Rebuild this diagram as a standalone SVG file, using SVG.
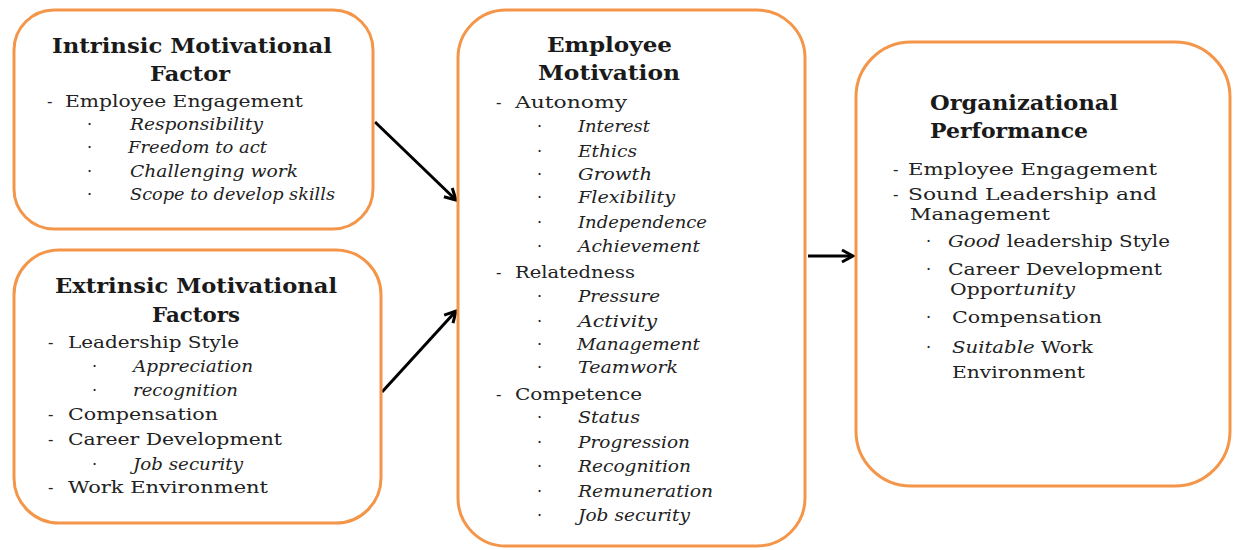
<svg xmlns="http://www.w3.org/2000/svg" width="1233" height="550" viewBox="0 0 1233 550">
<style>
.box{fill:#fff;stroke:#F4964A;stroke-width:3}
.t{font-family:"DejaVu Serif","Liberation Serif",serif;font-weight:bold;font-size:21px;fill:#1a1a1a}
.b{font-family:"DejaVu Serif","Liberation Serif",serif;font-size:17px;fill:#222}
.i{font-family:"DejaVu Serif","Liberation Serif",serif;font-style:italic;font-size:16px;fill:#222}
.d{font-family:"DejaVu Serif","Liberation Serif",serif;font-size:16px;fill:#222}
.c{stroke:#000;stroke-width:3;fill:none}
</style>
<defs>
<marker id="ah" markerUnits="userSpaceOnUse" markerWidth="16" markerHeight="16" refX="13" refY="8" orient="auto">
<path d="M2,2 L13,8 L2,14" fill="none" stroke="#000" stroke-width="3"/>
</marker>
</defs>
<rect width="1233" height="550" fill="#fff"/>
<g id="connectors">
<line class="c" x1="375" y1="122" x2="456" y2="200" marker-end="url(#ah)"/>
<line class="c" x1="382" y1="392" x2="456" y2="311" marker-end="url(#ah)"/>
<line class="c" x1="808" y1="256" x2="853" y2="256" marker-end="url(#ah)"/>
</g>
<g id="intrinsic">
<rect class="box" x="14" y="10" width="359" height="219" rx="40"/>
<text class="t" x="52" y="53" textLength="280" lengthAdjust="spacingAndGlyphs">Intrinsic Motivational</text>
<text class="t" x="150" y="81" textLength="80" lengthAdjust="spacingAndGlyphs">Factor</text>
<text class="d" x="47" y="107">-</text>
<text class="b" x="65" y="107" textLength="238" lengthAdjust="spacingAndGlyphs">Employee Engagement</text>
<text class="d" x="87" y="130">·</text>
<text class="i" x="130" y="130" textLength="133" lengthAdjust="spacingAndGlyphs">Responsibility</text>
<text class="d" x="87" y="153">·</text>
<text class="i" x="128" y="153" textLength="139" lengthAdjust="spacingAndGlyphs">Freedom to act</text>
<text class="d" x="87" y="177">·</text>
<text class="i" x="130" y="177" textLength="168" lengthAdjust="spacingAndGlyphs">Challenging work</text>
<text class="d" x="87" y="200">·</text>
<text class="i" x="130" y="200" textLength="205" lengthAdjust="spacingAndGlyphs">Scope to develop skills</text>
</g>
<g id="extrinsic">
<rect class="box" x="14" y="250" width="367" height="273" rx="45"/>
<text class="t" x="55" y="293" textLength="282" lengthAdjust="spacingAndGlyphs">Extrinsic Motivational</text>
<text class="t" x="152" y="322" textLength="88" lengthAdjust="spacingAndGlyphs">Factors</text>
<text class="d" x="48" y="348">-</text>
<text class="b" x="68" y="348" textLength="171" lengthAdjust="spacingAndGlyphs">Leadership Style</text>
<text class="d" x="92" y="372">·</text>
<text class="i" x="133" y="372" textLength="120" lengthAdjust="spacingAndGlyphs">Appreciation</text>
<text class="d" x="92" y="396">·</text>
<text class="i" x="133" y="396" textLength="105" lengthAdjust="spacingAndGlyphs">recognition</text>
<text class="d" x="48" y="420">-</text>
<text class="b" x="68" y="420" textLength="150" lengthAdjust="spacingAndGlyphs">Compensation</text>
<text class="d" x="48" y="445">-</text>
<text class="b" x="68" y="445" textLength="214" lengthAdjust="spacingAndGlyphs">Career Development</text>
<text class="d" x="92" y="470">·</text>
<text class="i" x="133" y="470" textLength="110" lengthAdjust="spacingAndGlyphs">Job security</text>
<text class="d" x="48" y="493">-</text>
<text class="b" x="68" y="493" textLength="200" lengthAdjust="spacingAndGlyphs">Work Environment</text>
</g>
<g id="motivation">
<rect class="box" x="458" y="10" width="347" height="536" rx="48"/>
<text class="t" x="547" y="52" textLength="125" lengthAdjust="spacingAndGlyphs">Employee</text>
<text class="t" x="538" y="80" textLength="142" lengthAdjust="spacingAndGlyphs">Motivation</text>
<text class="d" x="496" y="108">-</text>
<text class="b" x="515" y="108" textLength="112" lengthAdjust="spacingAndGlyphs">Autonomy</text>
<text class="d" x="537" y="132">·</text>
<text class="i" x="578" y="132" textLength="72" lengthAdjust="spacingAndGlyphs">Interest</text>
<text class="d" x="537" y="157">·</text>
<text class="i" x="578" y="157" textLength="59" lengthAdjust="spacingAndGlyphs">Ethics</text>
<text class="d" x="537" y="180">·</text>
<text class="i" x="578" y="180" textLength="74" lengthAdjust="spacingAndGlyphs">Growth</text>
<text class="d" x="537" y="203">·</text>
<text class="i" x="578" y="203" textLength="97" lengthAdjust="spacingAndGlyphs">Flexibility</text>
<text class="d" x="537" y="228">·</text>
<text class="i" x="578" y="228" textLength="129" lengthAdjust="spacingAndGlyphs">Independence</text>
<text class="d" x="537" y="252">·</text>
<text class="i" x="578" y="252" textLength="122" lengthAdjust="spacingAndGlyphs">Achievement</text>
<text class="d" x="496" y="278">-</text>
<text class="b" x="515" y="278" textLength="120" lengthAdjust="spacingAndGlyphs">Relatedness</text>
<text class="d" x="537" y="302">·</text>
<text class="i" x="578" y="302" textLength="82" lengthAdjust="spacingAndGlyphs">Pressure</text>
<text class="d" x="537" y="327">·</text>
<text class="i" x="578" y="327" textLength="79" lengthAdjust="spacingAndGlyphs">Activity</text>
<text class="d" x="537" y="350">·</text>
<text class="i" x="577" y="350" textLength="123" lengthAdjust="spacingAndGlyphs">Management</text>
<text class="d" x="537" y="373">·</text>
<text class="i" x="578" y="373" textLength="100" lengthAdjust="spacingAndGlyphs">Teamwork</text>
<text class="d" x="496" y="400">-</text>
<text class="b" x="515" y="400" textLength="127" lengthAdjust="spacingAndGlyphs">Competence</text>
<text class="d" x="537" y="423">·</text>
<text class="i" x="578" y="423" textLength="62" lengthAdjust="spacingAndGlyphs">Status</text>
<text class="d" x="537" y="448">·</text>
<text class="i" x="578" y="448" textLength="112" lengthAdjust="spacingAndGlyphs">Progression</text>
<text class="d" x="537" y="472">·</text>
<text class="i" x="578" y="472" textLength="113" lengthAdjust="spacingAndGlyphs">Recognition</text>
<text class="d" x="537" y="497">·</text>
<text class="i" x="578" y="497" textLength="135" lengthAdjust="spacingAndGlyphs">Remuneration</text>
<text class="d" x="537" y="521">·</text>
<text class="i" x="578" y="521" textLength="112" lengthAdjust="spacingAndGlyphs">Job security</text>
</g>
<g id="performance">
<rect class="box" x="856" y="42" width="374" height="444" rx="55"/>
<text class="t" x="930" y="110" textLength="188" lengthAdjust="spacingAndGlyphs">Organizational</text>
<text class="t" x="930" y="138" textLength="158" lengthAdjust="spacingAndGlyphs">Performance</text>
<text class="d" x="893" y="175">-</text>
<text class="b" x="908" y="175" textLength="249" lengthAdjust="spacingAndGlyphs">Employee Engagement</text>
<text class="d" x="893" y="200">-</text>
<text class="b" x="908" y="200" textLength="249" lengthAdjust="spacingAndGlyphs">Sound Leadership and</text>
<text class="b" x="910" y="220" textLength="140" lengthAdjust="spacingAndGlyphs">Management</text>
<text class="d" x="926" y="247">·</text>
<text class="b" x="948" y="247" textLength="222" lengthAdjust="spacingAndGlyphs"><tspan font-style="italic">Good</tspan> leadership Style</text>
<text class="d" x="926" y="275">·</text>
<text class="b" x="948" y="275" textLength="214" lengthAdjust="spacingAndGlyphs">Career Development</text>
<text class="b" x="950" y="295" textLength="125" lengthAdjust="spacingAndGlyphs">Oppor<tspan font-style="italic">tunity</tspan></text>
<text class="d" x="926" y="323">·</text>
<text class="b" x="952" y="323" textLength="150" lengthAdjust="spacingAndGlyphs">Compensation</text>
<text class="d" x="926" y="353">·</text>
<text class="b" x="952" y="353" textLength="141" lengthAdjust="spacingAndGlyphs"><tspan font-style="italic">Suitable</tspan> Work</text>
<text class="b" x="952" y="378" textLength="133" lengthAdjust="spacingAndGlyphs">Environment</text>
</g>
</svg>
